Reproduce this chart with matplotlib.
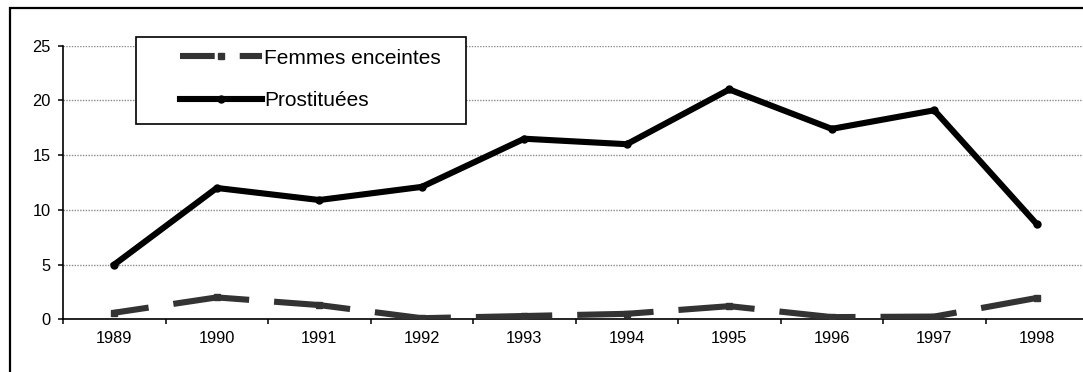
import matplotlib
matplotlib.use("Agg")
import matplotlib.pyplot as plt
from matplotlib.patches import Rectangle

plt.rcParams['font.family'] = ['Liberation Sans', 'DejaVu Sans']
plt.rcParams['lines.scale_dashes'] = False

years = ['1989', '1990', '1991', '1992', '1993', '1994', '1995', '1996', '1997', '1998']
femmes_enceintes = [0.6, 2.0, 1.3, 0.1, 0.3, 0.5, 1.2, 0.2, 0.25, 1.95]
prostituees = [5.0, 12.0, 10.9, 12.1, 16.5, 16.0, 21.0, 17.4, 19.1, 8.7]
yticks = [0, 5, 10, 15, 20, 25]

W, H = 1083, 372
fig = plt.figure(figsize=(W / 100, H / 100), dpi=100)
fig.patch.set_facecolor('white')

# outer frame (extends past the right and bottom edges)
fig.patches.append(Rectangle((9.5 / W, -0.2), 1.2, 1.2 - 7.5 / H,
                             transform=fig.transFigure, fill=False,
                             edgecolor='black', linewidth=1.6))

left = 63 / W
right = 1088 / W
bottom = (H - 319.3) / H
top = (H - 45.7) / H
ax = fig.add_axes([left, bottom, right - left, top - bottom])
ax.set_facecolor('none')

x = list(range(len(years)))
ax.plot(x, femmes_enceintes, color='#333333', linewidth=4.4,
        linestyle=(30, (55, 18)), marker='s', markersize=4.5,
        markerfacecolor='#333333', markeredgecolor='#333333',
        solid_capstyle='butt', dash_capstyle='butt', zorder=3,
        label='Femmes enceintes')
ax.plot(x, prostituees, color='black', linewidth=4.4,
        marker='o', markersize=5, markerfacecolor='black',
        markeredgecolor='black', solid_joinstyle='miter', zorder=4,
        label='Prostituées')

ax.set_xlim(-0.5, 9.5)
ax.set_ylim(0, 25)
ax.set_yticks(yticks)
ax.set_yticklabels([str(v) for v in yticks])
ax.yaxis.grid(True, color='#8a8a8a', linestyle=(0, (1, 1)), linewidth=1.0)
ax.set_axisbelow(True)

ax.set_xticks([i - 0.5 for i in range(len(years) + 1)])
ax.set_xticklabels([])
ax.set_xticks(x, minor=True)
ax.set_xticklabels(years, minor=True)
ax.tick_params(axis='x', which='major', direction='out', length=3.5,
               width=1.1, color='black')
ax.tick_params(axis='x', which='minor', length=0, pad=8.5, labelsize=11.8)
ax.tick_params(axis='y', direction='out', length=3.8, width=1.1,
               pad=5, labelsize=11.8)

for s in ['top', 'right']:
    ax.spines[s].set_visible(False)
for s in ['left', 'bottom']:
    ax.spines[s].set_linewidth(1.2)
    ax.spines[s].set_color('black')

# legend box
fig.patches.append(Rectangle((135.5 / W, (H - 124) / H), 331 / W, 87 / H,
                             transform=fig.transFigure, facecolor='white',
                             edgecolor='black', linewidth=1.2, zorder=5))
leg = fig.legend(loc='upper left', bbox_to_anchor=(163 / W, (H - 32) / H),
                 frameon=False, fontsize=15, handlelength=3.95,
                 handletextpad=0.12, labelspacing=1.12, borderpad=0.3)
leg.set_zorder(6)

fig.savefig('out.png', dpi=100, facecolor='white')
